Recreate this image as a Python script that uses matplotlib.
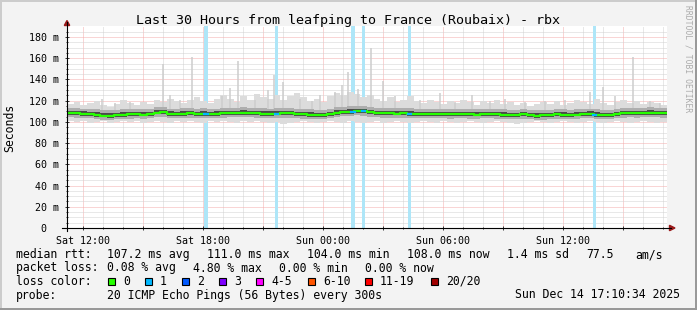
import numpy as np
import matplotlib
matplotlib.use("Agg")
import matplotlib.pyplot as plt
from matplotlib.patches import Rectangle, Polygon
from matplotlib.lines import Line2D

plt.rcParams["font.family"] = "DejaVu Sans Mono"

# ---- data ----
# graph covers 30 h ending Sun 17:10:34, time in hours since Sat 00:00
start_clock = 11 + 10.57 / 60
end_clock = start_clock + 30

# median rtt (ms), one value every 20 minutes
median_ms = [
    108.2, 108.0, 107.6, 107.4, 106.8, 106.0, 105.8, 106.4, 106.8,
    107.0, 107.2, 106.9, 107.3, 108.8, 109.0, 107.6, 107.4, 107.8,
    108.1, 107.5, 107.7, 107.2, 107.6, 108.0, 108.2, 108.4, 108.6,
    108.3, 108.0, 107.8, 107.6, 107.9, 108.1, 108.0, 107.4, 107.1,
    106.8, 106.4, 106.6, 107.5, 108.6, 109.2, 109.6, 110.2, 110.0,
    108.9, 108.3, 108.1, 108.0, 107.9, 108.1, 107.8, 107.3, 107.2,
    107.4, 107.5, 107.2, 107.0, 107.3, 107.4, 107.1, 106.9, 107.2,
    107.5, 107.1, 106.7, 106.5, 106.6, 107.0, 106.3, 105.9, 106.2,
    106.6, 107.0, 106.8, 106.5, 106.9, 107.3, 107.6, 106.8, 106.3,
    106.6, 107.4, 108.1, 108.3, 108.0, 108.4, 108.6, 108.2, 108.0,
    108.0,
]

# outer smoke envelope (ms)
smoke_hi = [
    117, 119, 116, 118, 120, 116, 114, 117, 121,
    118, 116, 119, 117, 121, 119, 122, 120, 118,
    121, 123, 120, 118, 122, 125, 122, 119, 124,
    121, 126, 123, 122, 125, 121, 124, 127, 123,
    120, 122, 119, 124, 127, 125, 128, 126, 123,
    125, 122, 120, 123, 119, 121, 124, 120, 118,
    121, 119, 117, 120, 118, 121, 119, 116, 120,
    118, 121, 117, 119, 116, 118, 115, 117, 119,
    117, 120, 116, 118, 121, 119, 117, 122, 118,
    116, 119, 121, 118, 120, 117, 119, 118, 116,
    117,
]
smoke_lo = [
    101, 100, 101, 99, 100, 101, 99, 100, 101,
    100, 101, 99, 100, 101, 100, 99, 101, 100,
    101, 100, 99, 101, 100, 101, 100, 99, 101,
    100, 101, 100, 99, 100, 98, 99, 100, 101,
    100, 99, 100, 101, 100, 99, 101, 100, 99,
    100, 101, 99, 100, 101, 100, 99, 100, 101,
    100, 99, 101, 100, 99, 100, 101, 100, 99,
    100, 101, 100, 99, 98, 99, 100, 101, 100,
    99, 100, 101, 100, 99, 100, 101, 100, 99,
    100, 101, 100, 99, 100, 101, 100, 99, 100,
    100,
]

# single high pings (clock hour, ms)
spike_hours = [12.93, 13.58, 14.33, 15.98, 16.33, 16.83, 17.43, 18.93, 19.33,
               19.73, 20.58, 21.23, 21.53, 21.98, 22.83, 23.43, 23.83, 24.58,
               24.93, 25.23, 25.73, 26.38, 26.98, 27.58, 28.83, 29.83, 30.58,
               31.43, 32.33, 33.08, 34.08, 35.08, 36.08, 37.33, 37.98, 38.58,
               39.48, 40.33, 40.83]
spike_ms = [122, 118, 119, 155, 125, 121, 161, 124, 132,
            157, 121, 130, 144, 138, 122, 120, 125, 128,
            135, 147, 131, 170, 139, 124, 121, 127, 119,
            125, 120, 122, 119, 120, 121, 128, 133, 124,
            161, 120, 118]

# intervals with 1/20 packet loss
loss_hours = [18.13, 21.65, 25.48, 25.99, 28.30, 37.55]

tick_hours = [12, 18, 24, 30, 36]
tick_labels = ["Sat 12:00", "Sat 18:00", "Sun 00:00", "Sun 06:00", "Sun 12:00"]

loss_names = ["0", "1", "2", "3", "4-5", "6-10", "11-19", "20/20"]
loss_colors = ["#26ff00", "#00b8ff", "#0059ff", "#7e00ff", "#ff00ff",
               "#ff5500", "#ff0000", "#a10000"]

title = "Last 30 Hours from leafping to France (Roubaix) - rbx"

# ---- figure ----
W, H = 697, 310
fig = plt.figure(figsize=(W / 100, H / 100), dpi=100, facecolor="#f3f3f3")


def fx(px):
    return px / W


def fy(py):
    return 1 - py / H


X0, X1, Y0, Y1 = 67, 667, 26.4, 228
ax = fig.add_axes([fx(X0), fy(Y1), (X1 - X0) / W, (Y1 - Y0) / H])
ax.set_facecolor("white")
ax.set_xlim(start_clock, end_clock)
ax.set_ylim(0, 190)
for s in ax.spines.values():
    s.set_visible(False)

t = start_clock + np.arange(len(median_ms)) / 3
med = np.array(median_ms)

# grid
ax.set_xticks(np.arange(12, 42, 3))
ax.set_xticks(np.arange(12, 42, 1), minor=True)
ax.set_xticklabels([tick_labels[tick_hours.index(h)] if h in tick_hours else ""
                    for h in range(12, 42, 3)])
ax.set_yticks(np.arange(0, 181, 20))
ax.set_yticks(np.arange(0, 190, 5), minor=True)
ax.set_yticklabels(["0  "] + ["%d m" % v for v in range(20, 181, 20)])
ax.grid(which="minor", color="#d2d2d2", ls=(0, (1, 1)), lw=0.72, zorder=0)
ax.grid(which="major", color="#f5adad", ls=(0, (1, 1)), lw=0.72, zorder=0)
ax.set_axisbelow(True)
ax.tick_params(which="major", length=3, width=0.7, color="#333333", direction="inout",
               labelsize=7.2, pad=4)
ax.tick_params(which="minor", length=2, width=0.7, color="#333333", direction="inout")

# loss bars
for h in loss_hours:
    ax.axvspan(h - 0.08, h + 0.08, color="#aee6f8", lw=0, zorder=1)

# smoke
ax.fill_between(t, smoke_lo, smoke_hi, step="post", color="#dcdcdc", lw=0, zorder=2)
ax.vlines(spike_hours, 110, spike_ms, color="#cdcdcd", lw=1.1, zorder=2)
ax.fill_between(t, med - 4, med + 5, step="post", color="#aeaeae", lw=0, zorder=3)
ax.fill_between(t, med - 1.8, med + 2.2, step="post", color="#4a4a4a", lw=0, zorder=4)

# median
ax.step(t, med, where="post", color="#26ff00", lw=1.6, zorder=5)
for h in loss_hours:
    v = med[int((h - start_clock) * 3)]
    ax.plot([h - 0.08, h + 0.08], [v, v], color="#00b8ff", lw=1.6, zorder=6)

# axis lines and arrows
fig.add_artist(Line2D([fx(67), fx(67)], [fy(231), fy(22)], color="black", lw=0.8))
fig.add_artist(Line2D([fx(62), fx(671)], [fy(228), fy(228)], color="black", lw=0.8))
fig.add_artist(Polygon([[fx(67), fy(20.5)], [fx(64.3), fy(25.5)], [fx(69.7), fy(25.5)]],
                       closed=True, color="#9b1b1b", transform=fig.transFigure))
fig.add_artist(Polygon([[fx(675), fy(228)], [fx(669.5), fy(225.3)], [fx(669.5), fy(230.7)]],
                       closed=True, color="#9b1b1b", transform=fig.transFigure))

# titles
fig.text(fx(348), fy(24), title, ha="center", va="baseline", fontsize=9.6)
fig.text(fx(10), fy(127.5), "Seconds", rotation=90, ha="center", va="center", fontsize=8.3)
fig.text(fx(688), fy(5), "RRDTOOL / TOBI OETIKER", rotation=270, ha="center", va="top",
         fontsize=5.8, color="#ababab")

# legend
fs = 8.3
rows = [258, 271.5, 285, 298.5]
fig.text(fx(16), fy(rows[0]), "median rtt:", fontsize=fs, va="baseline")
for x, s in zip([107, 207, 307, 407, 507, 586, 635],
                ["107.2 ms avg", "111.0 ms max", "104.0 ms min", "108.0 ms now",
                 "1.4 ms sd", "77.5", "am/s"]):
    fig.text(fx(x), fy(rows[0]), s, fontsize=fs, va="baseline")

fig.text(fx(16), fy(rows[1]), "packet loss:", fontsize=fs, va="baseline")
for x, s in zip([107, 193, 279, 365],
                ["0.08 % avg", "4.80 % max", "0.00 % min", "0.00 % now"]):
    fig.text(fx(x), fy(rows[1]), s, fontsize=fs, va="baseline")

fig.text(fx(16), fy(rows[2]), "loss color:", fontsize=fs, va="baseline")
for x, name, c in zip([108, 145, 182, 219, 256, 308, 365, 431], loss_names, loss_colors):
    fig.add_artist(Rectangle((fx(x), fy(285)), 7 / W, 7 / H, transform=fig.transFigure,
                             facecolor=c, edgecolor="black", lw=0.8))
    fig.text(fx(x + 15), fy(rows[2]), name, fontsize=fs, va="baseline")

fig.text(fx(16), fy(rows[3]), "probe:", fontsize=fs, va="baseline")
fig.text(fx(107), fy(rows[3]), "20 ICMP Echo Pings (56 Bytes) every 300s", fontsize=fs,
         va="baseline")
fig.text(fx(680), fy(rows[3]), "Sun Dec 14 17:10:34 2025", fontsize=fs, va="baseline",
         ha="right")

# 3d frame
for (x, y, w, h), c in [((0, 0, W, 2), "#cccccc"), ((0, 0, 2, H), "#cccccc"),
                        ((0, H - 2.5, W, 2.5), "#999999"), ((W - 2, 0, 2, H), "#999999")]:
    fig.add_artist(Rectangle((fx(x), fy(y + h)), w / W, h / H, transform=fig.transFigure,
                             color=c, lw=0))

fig.savefig("out.png", dpi=100, facecolor=fig.get_facecolor())
